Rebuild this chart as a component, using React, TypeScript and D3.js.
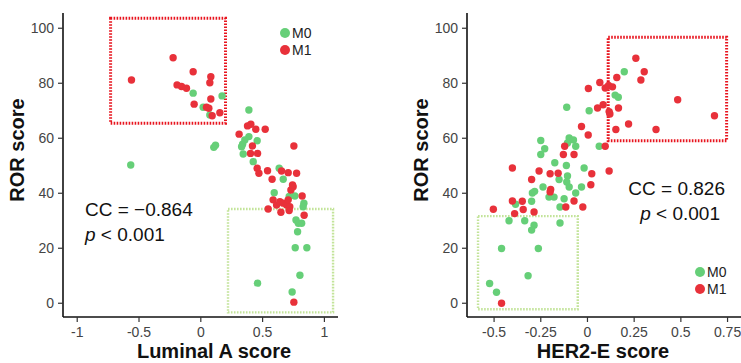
import React from 'react';
import * as d3 from 'd3';

// Luminal A panel: [score, ROR]
const lumM0: [number, number][] = [
  [-0.062, 76.4], [0.172, 75.4], [0.019, 71.3], [0.073, 68.5], [-0.567, 50.3], [0.105, 56.7], [0.119, 57.5],
  [0.389, 70.3], [0.389, 60.6], [0.356, 59.4], [0.338, 57.8], [0.33, 56.9], [0.456, 59.1], [0.343, 54.3],
  [0.424, 51.5], [0.634, 49.1], [0.667, 45.1], [0.594, 40.2], [0.715, 38.8], [0.761, 39], [0.834, 36.4],
  [0.828, 35.1], [0.77, 30.3], [0.789, 29.1], [0.816, 29.1], [0.783, 26], [0.764, 20.2], [0.858, 20.2],
  [0.802, 10.2], [0.739, 4.1], [0.459, 7.3],
];
const lumM1: [number, number][] = [
  [-0.561, 81.2], [-0.224, 89.3], [-0.062, 84.2], [-0.192, 79.4], [-0.156, 78.8], [-0.116, 78.2], [0.081, 82.4],
  [0.073, 80.2], [0.081, 74.3], [-0.054, 72.4], [0.046, 71.3], [0.065, 70.9], [0.092, 68.2], [0.154, 69.3],
  [0.31, 61.5], [0.378, 64.5], [0.405, 65.1], [0.445, 63.3], [0.521, 63.3], [0.418, 57.2], [0.402, 54.5],
  [0.459, 54.5], [0.456, 49.1], [0.47, 47.3], [0.54, 48.2], [0.577, 45.1], [0.653, 48.1], [0.707, 47.5],
  [0.775, 47.3], [0.753, 57.2], [0.729, 41.2], [0.747, 42.4], [0.742, 43], [0.82, 39], [0.836, 32],
  [0.585, 37.6], [0.613, 35.7], [0.64, 36.9], [0.667, 36.4], [0.694, 35.7], [0.72, 35.1], [0.707, 37.6],
  [0.545, 34.3], [0.648, 33.1], [0.715, 33.7], [0.753, 0.4],
];

// HER2-E panel
const herM0: [number, number][] = [
  [0.197, 84.2], [0.148, 75.7], [0.165, 74.9], [-0.111, 71.3], [0.009, 70], [0.063, 57.1], [-0.25, 59.2],
  [-0.229, 56.2], [-0.25, 54.1], [-0.098, 60.1], [-0.075, 59.4], [-0.063, 57.1], [-0.107, 58.3], [-0.175, 51.1],
  [-0.113, 50.1], [-0.018, 49.2], [-0.238, 42.3], [-0.152, 45], [-0.107, 46.3], [-0.098, 42.3], [-0.111, 44.1],
  [-0.032, 42.3], [-0.063, 40.1], [-0.295, 40.1], [-0.283, 40.7], [-0.299, 37.1], [-0.206, 38.6], [-0.179, 38.6],
  [-0.125, 38], [-0.147, 35], [-0.42, 30], [-0.385, 36], [-0.336, 30], [-0.286, 28.4], [-0.299, 26.6],
  [-0.147, 29.2], [-0.46, 19.9], [-0.263, 19.9], [-0.318, 10], [-0.524, 7.2], [-0.487, 4],
];
const herM1: [number, number][] = [
  [0.259, 89.1], [0.304, 84.2], [0.286, 81.2], [0.157, 82.1], [0.066, 80.3], [0.005, 78.1], [0.095, 78.3],
  [0.113, 79.2], [0.134, 78.7], [0.483, 74], [0.166, 71], [0.054, 71], [0.084, 72.2], [0.116, 69.7],
  [0.12, 68.8], [0.68, 68.2], [0.22, 65.2], [0.152, 63.2], [0.367, 63.2], [-0.032, 64.3], [0.004, 61.2],
  [0.095, 57.1], [0.116, 48.1], [-0.122, 57.1], [-0.129, 54.1], [-0.072, 54.1], [0.023, 47.1], [-0.259, 48.1],
  [-0.157, 47.3], [-0.2, 47.1], [-0.299, 45], [0.018, 43.1], [-0.197, 41.4], [-0.2, 40.5], [-0.402, 49.2],
  [-0.072, 37.2], [-0.116, 35], [-0.025, 35], [-0.504, 34.2], [-0.402, 37.2], [-0.349, 37.1], [-0.344, 34.1],
  [-0.39, 32.6], [-0.286, 33.2], [-0.46, 0],
];

const yTicks = [0, 20, 40, 60, 80, 100];
const lumTicks = [-1, -0.5, 0, 0.5, 1];
const herTicks = [-0.5, -0.25, 0, 0.25, 0.5, 0.75];

// highlight boxes: [x0, x1, y0, y1] in data units
const lumRedBox = [-0.73, 0.2, 65.5, 103.6];
const lumGreenBox = [0.22, 1.07, -3.3, 34.3];
const herRedBox = [0.111, 0.745, 59.1, 96.7];
const herGreenBox = [-0.586, -0.052, -2.2, 31.7];

const GREEN = '#66cf78';
const RED = '#e8313a';
const FONT = 'Liberation Sans, Arial, sans-serif';

const Panel = ({ m0, m1, xDomain, xRange, xTicks, xTitle, xTitleX, redBox, greenBox, cc, ccX, ccAnchor, legendX, legendY }: any) => {
  const x = d3.scaleLinear().domain(xDomain).range(xRange);
  const y = d3.scaleLinear().domain([-5, 105]).range([317, 14.5]);
  const [ax0] = xRange;
  const yBot = 317;
  const fmt = (v: number) => String(v);

  const box = (b: number[], color: string, w: number, key: string) => (
    <rect key={key} x={x(b[0])} y={y(b[3])} width={x(b[1]) - x(b[0])} height={y(b[2]) - y(b[3])}
      fill="none" stroke={color} strokeWidth={w} strokeDasharray="1.6 1.4" />
  );

  return (
    <g fontFamily={FONT}>
      {box(redBox, '#e8141e', 3, 'rb')}
      {box(greenBox, '#c3e49a', 2.4, 'gb')}
      {m0.map((d: number[], i: number) => (
        <circle key={'g' + i} cx={x(d[0])} cy={y(d[1])} r={3.7} fill={GREEN} />
      ))}
      {m1.map((d: number[], i: number) => (
        <circle key={'r' + i} cx={x(d[0])} cy={y(d[1])} r={3.7} fill={RED} />
      ))}
      {/* axes */}
      <line x1={ax0} x2={ax0} y1={13} y2={yBot} stroke="#111" strokeWidth={1.6} />
      <line x1={ax0} x2={xRange[1]} y1={yBot} y2={yBot} stroke="#111" strokeWidth={1.6} />
      {yTicks.map(t => (
        <g key={'yt' + t}>
          <line x1={ax0 - 5} x2={ax0} y1={y(t)} y2={y(t)} stroke="#333" strokeWidth={1.2} />
          <text x={ax0 - 9} y={y(t)} dy="0.35em" textAnchor="end" fontSize={14} fill="#444">{t}</text>
        </g>
      ))}
      {xTicks.map((t: number) => (
        <g key={'xt' + t}>
          <line x1={x(t)} x2={x(t)} y1={yBot} y2={yBot + 5} stroke="#333" strokeWidth={1.2} />
          <text x={x(t)} y={337} textAnchor="middle" fontSize={14} fill="#444">{fmt(t)}</text>
        </g>
      ))}
      <text x={xTitleX} y={358} textAnchor="middle" fontSize={20} fontWeight="bold" fill="#111">{xTitle}</text>
      <text transform={`translate(${ax0 - 39},150) rotate(-90)`} textAnchor="middle" fontSize={20} fontWeight="bold" fill="#111">ROR score</text>
      {/* stats */}
      <text x={ccX} y={cc.y} textAnchor={ccAnchor} fontSize={19} fill="#111">{cc.text}</text>
      <text x={cc.px} y={cc.y + 25} textAnchor={ccAnchor} fontSize={19} fill="#111">
        <tspan fontStyle="italic">p</tspan> &lt; 0.001
      </text>
      {/* legend */}
      <circle cx={legendX} cy={legendY} r={5} fill={GREEN} />
      <circle cx={legendX} cy={legendY + 17} r={5} fill={RED} />
      <text x={legendX + 7} y={legendY} dy="0.35em" fontSize={14} fill="#222">M0</text>
      <text x={legendX + 7} y={legendY + 17} dy="0.35em" fontSize={14} fill="#222">M1</text>
    </g>
  );
};

export default function App() {
  return (
    <svg width={741} height={363} style={{ position: 'absolute', left: 0, top: 0, background: '#fff' }}>
      <Panel m0={lumM0} m1={lumM1} xDomain={[-1.115, 1.11]} xRange={[63, 338]} xTicks={lumTicks}
        xTitle="Luminal A score" xTitleX={214} redBox={lumRedBox} greenBox={lumGreenBox}
        cc={{ text: 'CC = \u22120.864', y: 216, px: 85 }} ccX={85} ccAnchor="start" legendX={285} legendY={33} />
      <Panel m0={herM0} m1={herM1} xDomain={[-0.645, 0.822]} xRange={[467, 741]} xTicks={herTicks}
        xTitle="HER2-E score" xTitleX={603} redBox={herRedBox} greenBox={herGreenBox}
        cc={{ text: 'CC = 0.826', y: 195, px: 720 }} ccX={725} ccAnchor="end" legendX={700} legendY={272} />
    </svg>
  );
}
